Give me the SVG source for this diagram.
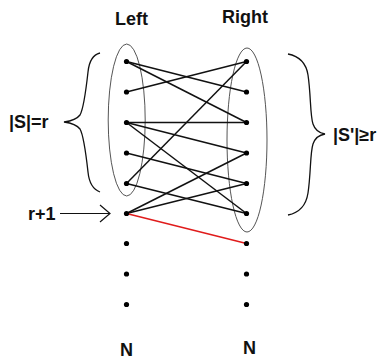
<svg xmlns="http://www.w3.org/2000/svg" width="384" height="360" viewBox="0 0 384 360">
<style>
text{font-family:"Liberation Sans",Arial,sans-serif;font-weight:bold;font-size:18px;fill:#111}
.set{fill:none;stroke:#555;stroke-width:1}
.brace{fill:none;stroke:#111;stroke-width:1.3}
.e{stroke:#111;stroke-width:1.5}
.red{stroke:#e01b1b;stroke-width:1.5}
.dot{fill:#000}
</style>
<rect width="384" height="360" fill="#fff"/>
<g id="labels">
<text x="115" y="25">Left</text>
<text x="222" y="23">Right</text>
<text x="9" y="128">|S|=r</text>
<text x="333" y="141">|S'|≥r</text>
<text x="28" y="220">r+1</text>
<text x="120" y="355.5">N</text>
<text x="243" y="354">N</text>
</g>
<g id="sets">
<ellipse id="setS" class="set" cx="126.7" cy="120" rx="18.5" ry="76"/>
<ellipse id="setS2" class="set" cx="247" cy="140" rx="20" ry="92"/>
<path id="braceLeft" class="brace" d="M100,53 C92,55 89,62 88,72 C86,90 84,108 80,115 C77,119 71,121 64,122 C71,123 77,125 80,129 C84,136 86,154 88,172 C89,182 92,189 100,192"/>
<path id="braceRight" class="brace" d="M288,54 C298,56 306,62 308,75 C311,95 310,115 313,124 C315,130 319,133 325,134 C319,135 315,138 313,144 C310,153 311,173 308,193 C306,206 298,213 288,215"/>
</g>
<g id="connectors">
<line class="e" x1="126.5" y1="61.5" x2="246.5" y2="92"/>
<line class="e" x1="126.5" y1="61.5" x2="246.5" y2="122.5"/>
<line class="e" x1="126.5" y1="92" x2="246.5" y2="61.5"/>
<line class="e" x1="126.5" y1="122.5" x2="246.5" y2="122.5"/>
<line class="e" x1="126.5" y1="122.5" x2="246.5" y2="153"/>
<line class="e" x1="126.5" y1="122.5" x2="246.5" y2="213.5"/>
<line class="e" x1="126.5" y1="153" x2="246.5" y2="183.5"/>
<line class="e" x1="126.5" y1="183.5" x2="246.5" y2="61.5"/>
<line class="e" x1="126.5" y1="183.5" x2="246.5" y2="213.5"/>
<line class="e" x1="126.5" y1="213.5" x2="246.5" y2="153"/>
<line class="e" x1="126.5" y1="213.5" x2="246.5" y2="183.5"/>
<line class="red" x1="126.5" y1="213.5" x2="246.5" y2="243.5"/>
<path id="arrowR1" fill="none" stroke="#111" stroke-width="1.2" d="M60,213.5 H110 M100,205 L110,213.5 L100,222"/>
</g>
<g id="leftNodes" class="dot">
<circle cx="126.5" cy="61.5" r="2.6"/>
<circle cx="126.5" cy="92" r="2.6"/>
<circle cx="126.5" cy="122.5" r="2.6"/>
<circle cx="126.5" cy="153" r="2.6"/>
<circle cx="126.5" cy="183.5" r="2.6"/>
<circle cx="126.5" cy="213.5" r="2.6"/>
<circle cx="126.5" cy="243.5" r="2.6"/>
<circle cx="126.5" cy="274" r="2.6"/>
<circle cx="126.5" cy="304.5" r="2.6"/>
</g>
<g id="rightNodes" class="dot">
<circle cx="246.5" cy="61.5" r="2.6"/>
<circle cx="246.5" cy="92" r="2.6"/>
<circle cx="246.5" cy="122.5" r="2.6"/>
<circle cx="246.5" cy="153" r="2.6"/>
<circle cx="246.5" cy="183.5" r="2.6"/>
<circle cx="246.5" cy="213.5" r="2.6"/>
<circle cx="246.5" cy="243.5" r="2.6"/>
<circle cx="246.5" cy="274" r="2.6"/>
<circle cx="246.5" cy="304.5" r="2.6"/>
</g>
</svg>
